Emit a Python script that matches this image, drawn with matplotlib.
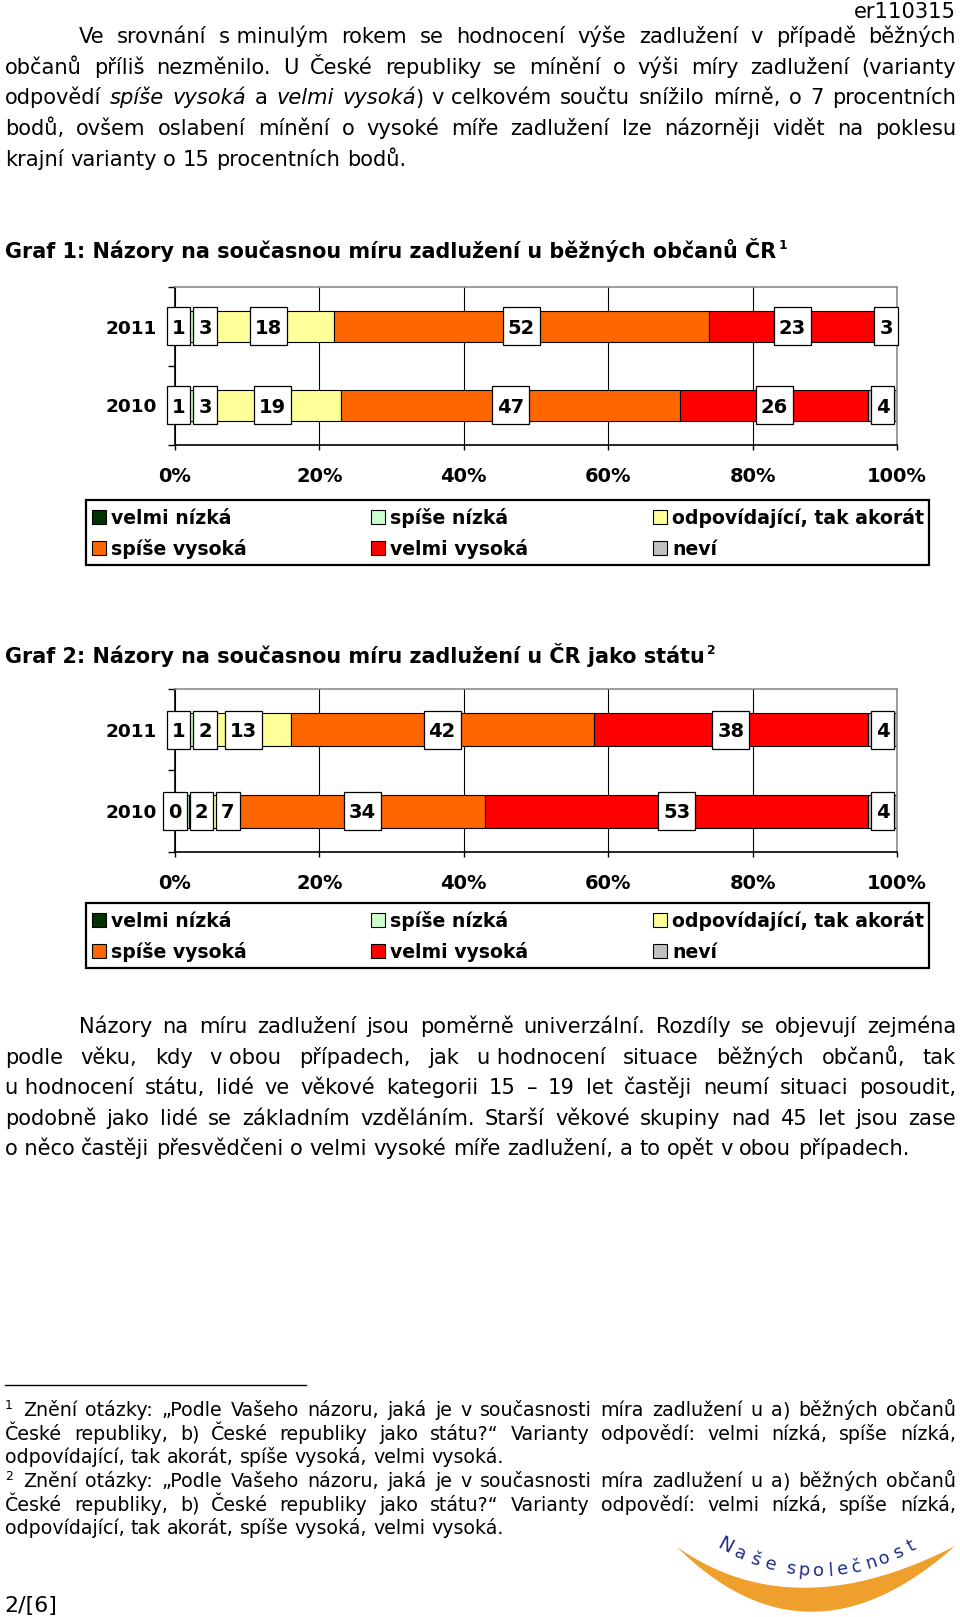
import numpy as np
import matplotlib
matplotlib.use('Agg')
import matplotlib.pyplot as plt
from matplotlib.patches import Rectangle, Polygon

W, H, DPI = 960, 1617, 100

# ---------------- data ----------------
categories = ['velmi nízká', 'spíše nízká', 'odpovídající, tak akorát',
              'spíše vysoká', 'velmi vysoká', 'neví']
colors = ['#003300', '#CCFFCC', '#FFFF99', '#FF6600', '#FF0000', '#C0C0C0']
years = ['2011', '2010']
graf1_2011 = [1, 3, 18, 52, 23, 3]
graf1_2010 = [1, 3, 19, 47, 26, 4]
graf2_2011 = [1, 2, 13, 42, 38, 4]
graf2_2010 = [0, 2, 7, 34, 53, 4]
tick_values = [0, 20, 40, 60, 80, 100]
tick_labels = ['0%', '20%', '40%', '60%', '80%', '100%']

title1 = 'Graf 1: Názory na současnou míru zadlužení u běžných občanů ČR'
title2 = 'Graf 2: Názory na současnou míru zadlužení u ČR jako státu'

para1 = [
    'Ve srovnání s\u00a0minulým rokem se hodnocení výše zadlužení v případě běžných',
    'občanů příliš nezměnilo. U České republiky se mínění o výši míry zadlužení (varianty',
    'odpovědí *spíše vysoká* a *velmi vysoká*) v\u00a0celkovém součtu snížilo mírně, o 7 procentních',
    'bodů, ovšem oslabení mínění o vysoké míře zadlužení lze názorněji vidět na poklesu',
    'krajní varianty o 15 procentních bodů.',
]
para2 = [
    'Názory na míru zadlužení jsou poměrně univerzální. Rozdíly se objevují zejména',
    'podle věku, kdy v\u00a0obou případech, jak u\u00a0hodnocení situace běžných občanů, tak',
    'u\u00a0hodnocení státu, lidé ve věkové kategorii 15 – 19 let častěji neumí situaci posoudit,',
    'podobně jako lidé se základním vzděláním. Starší věkové skupiny nad 45 let jsou zase',
    'o\u00a0něco častěji přesvědčeni o velmi vysoké míře zadlužení, a to opět v obou případech.',
]
foot_a = 'Znění otázky: „Podle Vašeho názoru, jaká je v současnosti míra zadlužení u a) běžných občanů'
foot_b = 'České republiky, b) České republiky jako státu?“ Varianty odpovědí: velmi nízká, spíše nízká,'
foot_c = 'odpovídající, tak akorát, spíše vysoká, velmi vysoká.'

# ---------------- figure ----------------
plt.rcParams['font.family'] = ['DejaVu Sans']
fig = plt.figure(figsize=(W / DPI, H / DPI), dpi=DPI)
page = fig.add_axes([0, 0, 1, 1])
page.set_xlim(0, W)
page.set_ylim(H, 0)
page.axis('off')
renderer = fig.canvas.get_renderer()


def measure(s, size, weight='normal', italic=False):
    t = page.text(0, 0, s, fontsize=size, fontweight=weight,
                  fontstyle='italic' if italic else 'normal')
    w = t.get_window_extent(renderer).width
    t.remove()
    return w


def parse(line):
    tokens, italic = [], False
    for word in line.split(' '):
        pieces, cur = [], ''
        for ch in word:
            if ch == '*':
                if cur:
                    pieces.append((cur, italic))
                cur = ''
                italic = not italic
            elif ch == ')':
                if cur:
                    pieces.append((cur, italic))
                pieces.append((')', False))
                cur = ''
            else:
                cur += ch
        if cur:
            pieces.append((cur, italic))
        tokens.append(pieces)
    return tokens


PIECE_GAP = -0.5


def draw_line(line, x0, x1, base, size, justify=True):
    tokens = parse(line)
    widths = [sum(measure(t, size, italic=it) for t, it in tok) + PIECE_GAP * (len(tok) - 1)
              for tok in tokens]
    space = measure('a a', size) - measure('aa', size)
    if justify and len(tokens) > 1:
        gap = (x1 - x0 - sum(widths)) / (len(tokens) - 1)
        gap = max(gap, space * 0.6)
    else:
        gap = space
    x = x0
    for tok, w in zip(tokens, widths):
        xx = x
        for t, it in tok:
            page.text(xx, base, t, fontsize=size, ha='left', va='baseline',
                      fontstyle='italic' if it else 'normal', color='black')
            xx += measure(t, size, italic=it) + PIECE_GAP
        x += w + gap


# font sizes fitted to reference widths
body_size = 10 * (404 + 909) / (measure(para1[-1], 10) + measure(para2[-1], 10))
foot_size = 10 * 500 / measure(foot_c, 10)
title_size = 10 * 771 / measure(title1, 10, weight='bold')
num_fs = 14      # tick labels and value boxes
year_fs = 13.3   # category labels
leg_fs = 10 * 251 / measure(categories[2], 10, weight='bold')

XL, XR = 5, 956

# header
page.text(XR, 18, 'er110315', fontsize=body_size, ha='right', va='baseline')

# paragraph 1
for i, line in enumerate(para1):
    x0 = 79 if i == 0 else XL
    draw_line(line, x0, XR, 43 + i * 30.75, body_size, justify=(i < len(para1) - 1))


def chart(rows, top, bottom, title, sup, title_base, leg_top):
    # title
    page.text(XL, title_base, title, fontsize=title_size, fontweight='bold',
              ha='left', va='baseline')
    tw = measure(title, title_size, weight='bold')
    page.text(XL + tw + 2, title_base - 9, sup, fontsize=title_size * 0.6,
              fontweight='bold', ha='left', va='baseline')

    left_px, width_px = 175, 722
    ax = fig.add_axes([left_px / W, 1 - bottom / H, width_px / W, (bottom - top) / H])
    ppu_x = width_px / 100.0
    ppu_y = (bottom - top) / 2.0
    ax.set_xlim(0, 100)
    ax.set_ylim(1.5, -0.5)
    cap = num_fs * DPI / 72 * 0.73
    for i, vals in enumerate(rows):
        vals = list(vals)
        lefts = np.concatenate([[0], np.cumsum(vals)[:-1]])
        ax.barh(i, vals, left=lefts, height=0.4, color=colors,
                edgecolor='black', linewidth=0.8, zorder=2)
        prev_right = -1e9
        for v, l in zip(vals, lefts):
            c = (l + v / 2.0) * ppu_x
            hw = (len(str(v)) * 13.5 + 10) / 2.0
            c = max(c, prev_right + 3 + hw)
            prev_right = c + hw
            ax.add_patch(Rectangle(((c - hw) / ppu_x, i - 19 / ppu_y), 2 * hw / ppu_x,
                                   38 / ppu_y, facecolor='white', edgecolor='black',
                                   linewidth=0.9, zorder=4, clip_on=False))
            ax.text(c / ppu_x, i + cap / 2 / ppu_y, str(v), ha='center', va='baseline',
                    fontsize=num_fs, fontweight='bold', zorder=5, clip_on=False)
    ax.set_xticks(tick_values, labels=tick_labels, fontsize=num_fs, fontweight='bold')
    ax.tick_params(axis='x', length=3.6, width=1, pad=12, direction='out')
    ax.set_yticks([0, 1], labels=years, fontsize=year_fs, fontweight='bold')
    ax.tick_params(axis='y', which='major', length=0, pad=13)
    ax.set_yticks([-0.5, 0.5, 1.5], minor=True)
    ax.tick_params(axis='y', which='minor', length=5, width=1, direction='out')
    ax.grid(axis='x', color='black', linewidth=0.8)
    ax.set_axisbelow(True)
    for s in ('top', 'right'):
        ax.spines[s].set_color('#8c8c8c')
        ax.spines[s].set_linewidth(1.2)
    for s in ('left', 'bottom'):
        ax.spines[s].set_color('black')
        ax.spines[s].set_linewidth(1.2)

    # legend box
    page.add_patch(Rectangle((86, leg_top), 843, 65, facecolor='white',
                             edgecolor='black', linewidth=1.6, zorder=3))
    col_x = [92, 371, 653]
    row_y = [leg_top + 17, leg_top + 48]
    lcap = leg_fs * DPI / 72 * 0.73
    for k, (lab, col) in enumerate(zip(categories, colors)):
        r, cc = divmod(k, 3)
        x = col_x[cc]
        y = row_y[r]
        page.add_patch(Rectangle((x, y - 7), 14, 14, facecolor=col,
                                 edgecolor='black', linewidth=0.8, zorder=4))
        page.text(x + 19, y + lcap / 2, lab, fontsize=leg_fs, fontweight='bold',
                  ha='left', va='baseline', zorder=5)
    return ax


chart([graf1_2011, graf1_2010], 287, 445, title1, '1', 258, 500)
chart([graf2_2011, graf2_2010], 689, 852, title2, '2', 663, 903)

# paragraph 2
for i, line in enumerate(para2):
    x0 = 79 if i == 0 else XL
    draw_line(line, x0, XR, 1033 + i * 30.5, body_size, justify=(i < len(para2) - 1))

# footnotes
page.plot([5, 306], [1385, 1385], color='black', linewidth=1)
fb = [1416, 1440, 1463, 1487, 1511, 1534]
for n, sup in enumerate(['1', '2']):
    b0 = fb[n * 3]
    page.text(5, b0 - 7, sup, fontsize=foot_size * 0.65, ha='left', va='baseline')
    draw_line(foot_a, 23, XR, b0, foot_size, True)
    draw_line(foot_b, XL, XR, fb[n * 3 + 1], foot_size, True)
    draw_line(foot_c, XL, XR, fb[n * 3 + 2], foot_size, False)

# page number
pn_size = 10 * 53 / measure('2/[6]', 10)
page.text(4, 1612, '2/[6]', fontsize=pn_size, ha='left', va='baseline')

# logo
def qbez(p0, c, p2, n=60):
    t = np.linspace(0, 1, n)[:, None]
    return (1 - t) ** 2 * np.array(p0) + 2 * (1 - t) * t * np.array(c) + t ** 2 * np.array(p2)

upper = qbez((677, 1547), (794, 1629), (955, 1546))
lower = qbez((955, 1546), (808, 1677), (677, 1547))
page.add_patch(Polygon(np.vstack([upper, lower]), closed=True, facecolor='#EE9F2C',
                       edgecolor='none', zorder=2))
logo_chars = 'Našespolečnost'
logo_x = [725, 740, 755, 771, 790, 804, 818, 830, 843, 857, 871, 884, 898, 911]
k = 0.0029
for ch, x in zip(logo_chars, logo_x):
    y = 1571 - k * (x - 818) ** 2
    rot = np.degrees(np.arctan(2 * k * (x - 818)))
    page.text(x, y, ch, fontsize=13 if ch != 'N' else 14, color='#1F2D86',
              ha='center', va='center', rotation=rot, rotation_mode='anchor', zorder=3)

fig.savefig('out.png', dpi=DPI)
